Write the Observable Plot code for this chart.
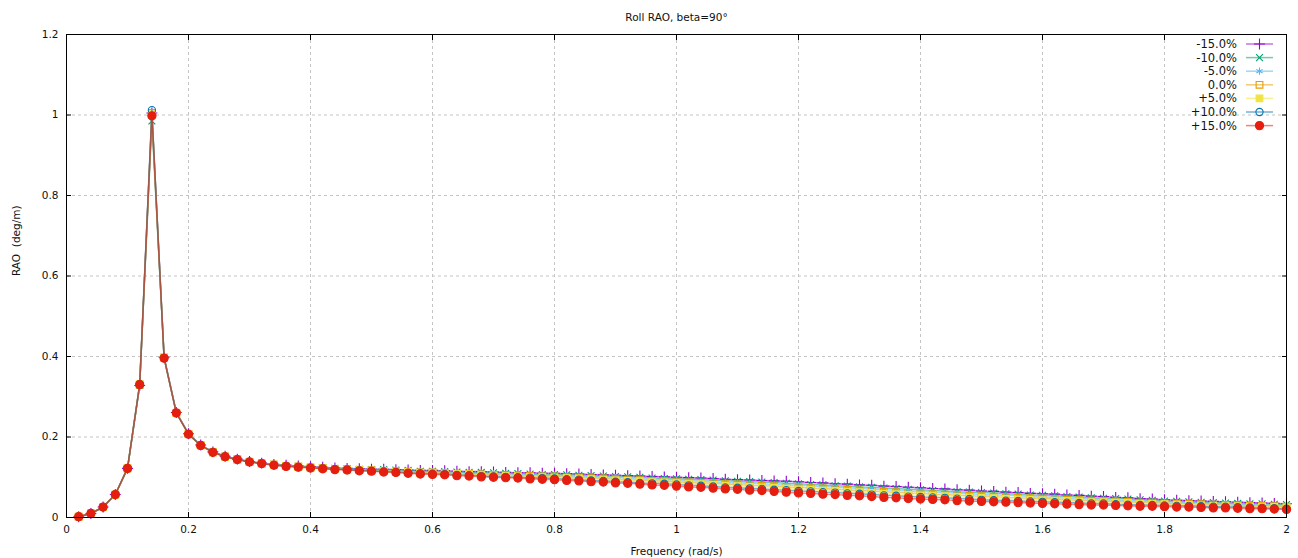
<!DOCTYPE html>
<html><head><meta charset="utf-8">
<script src="https://cdn.jsdelivr.net/npm/d3@7"></script>
<script src="https://cdn.jsdelivr.net/npm/@observablehq/plot@0.6"></script>
<style>body{margin:0;background:#fff}#chart{position:relative;width:1298px;height:558px}</style>
</head><body><div id="chart"></div>
<script>
const titleText = "Roll RAO, beta=90°";
const xLabel = "Frequency (rad/s)";
const yLabel = "RAO  (deg/m)";
const xTicks = [0,0.2,0.4,0.6,0.8,1,1.2,1.4,1.6,1.8,2];
const yTicks = [0,0.2,0.4,0.6,0.8,1,1.2];
const seriesNames = ["-15.0%","-10.0%","-5.0%","0.0%","+5.0%","+10.0%","+15.0%"];
const freq = [0.02,0.04,0.06,0.08,0.10,0.12,0.14,0.16,0.18,0.20,0.22,0.24,0.26,0.28,0.30,0.32,0.34,0.36,0.38,0.40,
0.42,0.44,0.46,0.48,0.50,0.52,0.54,0.56,0.58,0.60,0.62,0.64,0.66,0.68,0.70,0.72,0.74,0.76,0.78,0.80,
0.82,0.84,0.86,0.88,0.90,0.92,0.94,0.96,0.98,1.00,1.02,1.04,1.06,1.08,1.10,1.12,1.14,1.16,1.18,1.20,
1.22,1.24,1.26,1.28,1.30,1.32,1.34,1.36,1.38,1.40,1.42,1.44,1.46,1.48,1.50,1.52,1.54,1.56,1.58,1.60,
1.62,1.64,1.66,1.68,1.70,1.72,1.74,1.76,1.78,1.80,1.82,1.84,1.86,1.88,1.90,1.92,1.94,1.96,1.98,2.00];
const raoM15 = [0.002,0.010,0.026,0.057,0.122,0.328,1.005,0.398,0.261,0.208,0.180,0.163,0.152,0.145,
.139,.135,.132,.130,.128,.126,.125,.123,.122,.121,
.120,.120,.119,.118,.117,.117,.116,.115,.114,.114,
.113,.112,.111,.111,.110,.110,.109,.108,.107,.106,
.105,.104,.103,.102,.101,.100,.099,.098,.097,.095,
.094,.093,.092,.091,.090,.089,.087,.086,.084,.083,
.081,.080,.078,.077,.075,.074,.072,.071,.069,.068,
.066,.065,.063,.062,.060,.059,.058,.056,.055,.053,
.052,.050,.049,.047,.046,.044,.043,.042,.041,.040,
.039,.038,.037,.036,.035,.034];
const raoM10 = [0.002,0.010,0.026,0.057,0.122,0.328,0.985,0.398,0.261,0.208,0.180,0.163,0.152,0.145,
.139,.135,.132,.129,.127,.125,.124,.122,.121,.120,
.119,.119,.118,.117,.115,.115,.114,.113,.112,.112,
.111,.110,.109,.108,.107,.107,.106,.105,.104,.103,
.102,.101,.100,.098,.097,.096,.095,.094,.093,.091,
.090,.089,.088,.087,.085,.084,.082,.081,.079,.078,
.076,.075,.073,.072,.070,.069,.067,.066,.064,.063,
.062,.061,.059,.058,.056,.055,.054,.052,.051,.049,
.048,.047,.046,.044,.043,.041,.040,.039,.038,.037,
.036,.035,.034,.034,.033,.032];
const raoM5 = [0.002,0.010,0.026,0.057,0.122,0.329,1.000,0.397,0.261,0.208,0.180,0.163,0.152,0.145,
.139,.135,.131,.129,.127,.125,.124,.122,.121,.119,
.118,.118,.117,.115,.114,.114,.113,.111,.110,.110,
.109,.108,.107,.106,.105,.105,.103,.102,.101,.100,
.099,.098,.096,.095,.094,.093,.091,.090,.089,.087,
.086,.085,.084,.082,.081,.080,.078,.077,.075,.074,
.072,.071,.069,.068,.066,.065,.063,.062,.060,.059,
.057,.056,.055,.054,.052,.051,.050,.048,.047,.046,
.045,.043,.042,.041,.040,.038,.037,.037,.036,.035,
.034,.033,.032,.031,.030,.029];
const rao0 = [0.002,0.010,0.026,0.057,0.122,0.330,1.005,0.397,0.260,0.207,0.179,0.162,0.151,0.144,
.138,.134,.131,.128,.126,.124,.123,.121,.120,.118,
.117,.116,.115,.114,.112,.112,.111,.109,.108,.107,
.106,.105,.104,.103,.102,.102,.100,.099,.098,.097,
.095,.094,.093,.091,.090,.089,.087,.086,.085,.083,
.082,.080,.079,.078,.076,.075,.073,.072,.070,.069,
.067,.066,.064,.063,.061,.060,.058,.057,.055,.054,
.053,.052,.050,.049,.048,.047,.046,.044,.043,.042,
.041,.040,.039,.037,.037,.035,.034,.034,.033,.032,
.031,.030,.029,.029,.028,.027];
const raoP5 = [0.002,0.010,0.026,0.057,0.122,0.331,1.002,0.396,0.260,0.207,0.179,0.162,0.151,0.144,
.138,.134,.131,.128,.126,.124,.122,.120,.119,.118,
.117,.115,.114,.113,.111,.110,.109,.108,.107,.105,
.104,.103,.102,.101,.100,.099,.098,.097,.095,.094,
.092,.091,.090,.088,.087,.085,.084,.083,.081,.079,
.078,.076,.075,.074,.072,.070,.069,.067,.066,.064,
.063,.061,.059,.058,.056,.055,.054,.053,.051,.050,
.049,.048,.046,.045,.044,.043,.042,.041,.040,.038,
.038,.037,.036,.034,.034,.033,.032,.031,.030,.029,
.029,.028,.027,.027,.026,.025];
const raoP10 = [0.002,0.010,0.026,0.057,0.122,0.332,1.012,0.396,0.260,0.207,0.179,0.162,0.151,0.144,
.138,.134,.130,.128,.126,.124,.122,.120,.119,.117,
.116,.114,.113,.111,.110,.109,.108,.106,.105,.103,
.102,.101,.100,.099,.098,.097,.095,.094,.092,.091,
.089,.088,.086,.085,.084,.082,.080,.079,.077,.075,
.074,.072,.071,.069,.068,.066,.065,.063,.062,.060,
.059,.057,.055,.054,.052,.051,.050,.049,.047,.046,
.044,.043,.042,.041,.040,.039,.038,.037,.036,.035,
.035,.033,.032,.031,.031,.030,.029,.029,.028,.027,
.027,.026,.025,.024,.023,.022];
const raoP15 = [0.002,0.010,0.026,0.057,0.122,0.330,0.998,0.396,0.260,0.207,0.179,0.162,0.151,0.144,
.138,.134,.130,.127,.125,.123,.121,.119,.118,.116,
.115,.113,.112,.110,.108,.107,.106,.104,.103,.101,
.100,.099,.098,.096,.095,.094,.092,.091,.089,.088,
.086,.085,.083,.081,.080,.078,.076,.075,.073,.071,
.070,.068,.067,.065,.063,.061,.060,.058,.057,.055,
.054,.052,.050,.049,.047,.046,.045,.044,.042,.041,
.040,.039,.038,.037,.036,.035,.034,.033,.032,.031,
.031,.030,.029,.028,.028,.027,.026,.026,.025,.024,
.024,.023,.022,.022,.021,.020];

const seriesValues = [raoM15, raoM10, raoM5, rao0, raoP5, raoP10, raoP15];
const seriesColors = ["#9400d3","#009e73","#56b4e9","#e69f00","#f0e442","#0072b2","#e51e10"];
const seriesSymbols = ["plus","times","asterisk","square","square","circle","circle"];
const seriesFilled = [false,false,false,false,true,false,true];
const seriesR = [3.6,3.2,3.4,3.8,3.8,3.6,4.1];

const fmt = d => `${+d.toFixed(1)}`;
const font = "DejaVu Sans, sans-serif";
const gridStyle = {stroke:"#c4c4c4", strokeOpacity:1, strokeDasharray:"3,3"};

const marks = [
  Plot.gridX(xTicks, gridStyle),
  Plot.gridY(yTicks, gridStyle)
];
seriesValues.forEach((vals, i) => {
  const rows = freq.map((f, j) => ({series: seriesNames[i], f, rao: vals[j]}));
  marks.push(Plot.line(rows, {x:"f", y:"rao", stroke: seriesColors[i], strokeOpacity:0.55, strokeWidth:1.5}));
  marks.push(Plot.dot(rows, {x:"f", y:"rao", symbol: seriesSymbols[i], r: seriesR[i],
    stroke: seriesColors[i], strokeWidth: 1.1,
    fill: seriesFilled[i] ? seriesColors[i] : "none"}));
});
marks.push(
  Plot.frame({stroke:"#000", strokeWidth:1}),
  Plot.axisX(xTicks, {anchor:"bottom", tickSize:0, tickPadding:8, tickFormat: fmt, label:null, fill:"#111", fontSize:10.5}),
  Plot.axisY(yTicks, {anchor:"left", tickSize:0, tickPadding:8, tickFormat: fmt, label:null, fill:"#111", fontSize:10.5}),
  Plot.axisX(xTicks, {anchor:"bottom", tickSize:-5, tickFormat: () => "", label:null, stroke:"#000"}),
  Plot.axisX(xTicks, {anchor:"top", tickSize:-5, tickFormat: () => "", label:null, stroke:"#000"}),
  Plot.axisY(yTicks, {anchor:"left", tickSize:-5, tickFormat: () => "", label:null, stroke:"#000"}),
  Plot.axisY(yTicks, {anchor:"right", tickSize:-5, tickFormat: () => "", label:null, stroke:"#000"}),
  Plot.text([titleText], {text: d => d, frameAnchor:"top", dy:-21, fontSize:10.5, fill:"#111"}),
  Plot.text([xLabel], {text: d => d, frameAnchor:"bottom", dy:37, fontSize:10.5, fill:"#111"}),
  Plot.text([yLabel], {text: d => d, frameAnchor:"left", dx:-50, rotate:-90, fontSize:10.5, fill:"#111"})
);

const chart = Plot.plot({
  width: 1298, height: 558,
  marginLeft: 66, marginRight: 12, marginTop: 34, marginBottom: 41,
  x: {domain:[0,2]}, y: {domain:[0,1.2]},
  style: {fontFamily: font, fontSize: "10.5px", background: "#fff"},
  marks
});
document.getElementById("chart").appendChild(chart);

// legend (top-right inside frame)
const svg = d3.select(chart);
const lg = svg.append("g").attr("font-family", font).attr("font-size", 11.5);
const symMap = {plus: d3.symbolPlus, times: d3.symbolTimes, asterisk: d3.symbolAsterisk, square: d3.symbolSquare, circle: d3.symbolCircle};
seriesNames.forEach((name, i) => {
  const y = 44 + i * 13.6;
  lg.append("text").attr("x", 1237).attr("y", y).attr("text-anchor", "end").attr("dy", "0.35em").attr("fill", "#111").text(name);
  lg.append("line").attr("x1", 1246).attr("x2", 1273).attr("y1", y).attr("y2", y)
    .attr("stroke", seriesColors[i]).attr("stroke-opacity", 0.55).attr("stroke-width", 1.5);
  lg.append("path").attr("transform", `translate(1259.5,${y})`)
    .attr("d", d3.symbol(symMap[seriesSymbols[i]], Math.PI * seriesR[i] * seriesR[i])())
    .attr("stroke", seriesColors[i]).attr("stroke-width", 1.1)
    .attr("fill", seriesFilled[i] ? seriesColors[i] : "none");
});
</script>
</body></html>
